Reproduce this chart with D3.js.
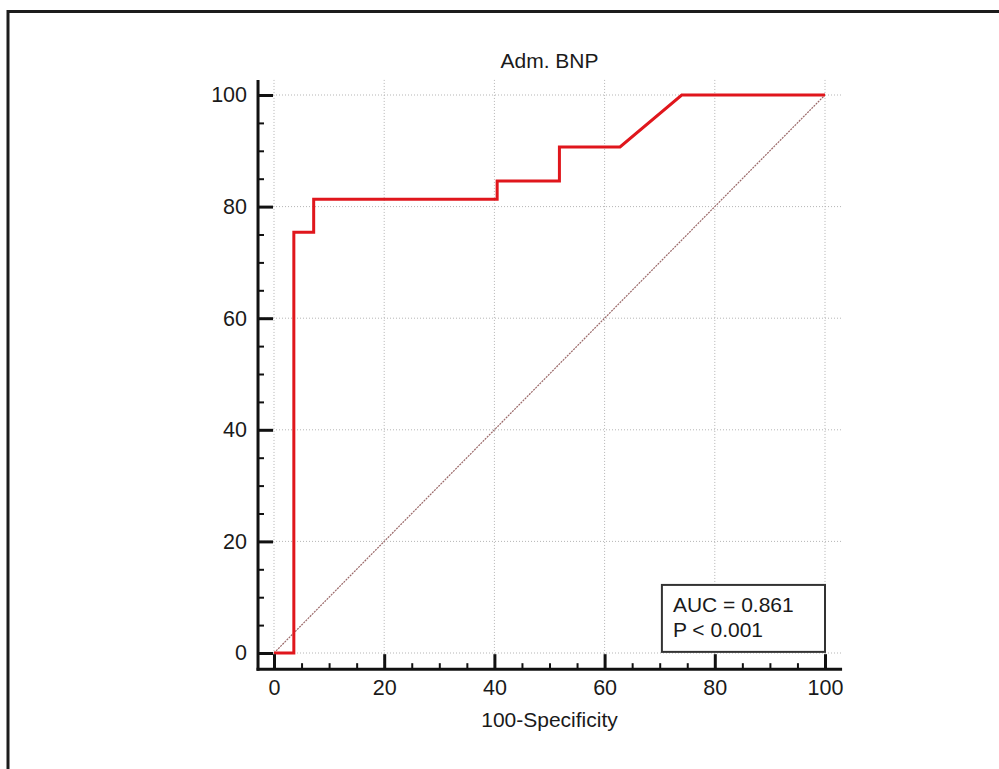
<!DOCTYPE html>
<html>
<head>
<meta charset="utf-8">
<script src="https://cdn.jsdelivr.net/npm/d3@7"></script>
<style>
  html, body { margin: 0; padding: 0; background: #fff; }
  svg { display: block; font-family: "Liberation Sans", Arial, sans-serif; }
</style>
</head>
<body>
<svg id="roc" width="999" height="769"></svg>
<script>
// ROC curve points (100-specificity, sensitivity)
const fpr = [0, 3.6, 3.6, 7.2, 7.2, 40.5, 40.5, 51.8, 51.8, 62.8, 74.0, 100];
const tpr = [0, 0, 75.4, 75.4, 81.3, 81.3, 84.6, 84.6, 90.7, 90.7, 100, 100];
const majorTicks = [0, 20, 40, 60, 80, 100];
const minorTicks = [5, 10, 15, 25, 30, 35, 45, 50, 55, 65, 70, 75, 85, 90, 95];
const chartTitle = "Adm. BNP";
const xTitle = "100-Specificity";
const statLines = ["AUC = 0.861", "P < 0.001"];

const svg = d3.select("#roc");

// Outer frame (runs off the right and bottom of the picture)
svg.append("rect")
  .attr("x", 8).attr("y", 11.5)
  .attr("width", 1100).attr("height", 900)
  .attr("fill", "none")
  .attr("stroke", "#1c1c1c")
  .attr("stroke-width", 3);

const x = d3.scaleLinear().domain([0, 100]).range([274, 825]);
const y = d3.scaleLinear().domain([0, 100]).range([653, 95]);

// axis lines sit a bit outside the data range
const xLo = x(-2.9), xHi = x(103.1);
const yLo = y(-2.9), yHi = y(102.7);

// Grid
const grid = svg.append("g")
  .attr("stroke", "#b4b4b4")
  .attr("stroke-width", 1)
  .attr("stroke-dasharray", "1,2");
grid.selectAll(".gx").data(majorTicks).join("line")
  .attr("x1", d => x(d)).attr("x2", d => x(d))
  .attr("y1", yHi).attr("y2", yLo);
grid.selectAll(".gy").data(majorTicks).join("line")
  .attr("y1", d => y(d)).attr("y2", d => y(d))
  .attr("x1", xLo).attr("x2", xHi);

// Diagonal reference line
svg.append("line")
  .attr("x1", x(0)).attr("y1", y(0))
  .attr("x2", x(100)).attr("y2", y(100))
  .attr("stroke", "#9a6868")
  .attr("stroke-width", 1.2)
  .attr("stroke-dasharray", "2,1");

// ROC curve
const pts = fpr.map((v, i) => [v, tpr[i]]);
svg.append("path")
  .datum(pts)
  .attr("fill", "none")
  .attr("stroke", "#e0161c")
  .attr("stroke-width", 3)
  .attr("stroke-linejoin", "miter")
  .attr("d", d3.line().x(d => x(d[0])).y(d => y(d[1])));

// Axes
const xAxisG = svg.append("g").attr("transform", `translate(0,${yLo})`);
xAxisG.call(d3.axisBottom(x).tickValues(majorTicks).tickSizeInner(-15).tickSizeOuter(0).tickPadding(11));
xAxisG.append("g").call(d3.axisBottom(x).tickValues(minorTicks).tickSizeInner(-6).tickSizeOuter(0).tickFormat(""));

const yAxisG = svg.append("g").attr("transform", `translate(${xLo},0)`);
yAxisG.call(d3.axisLeft(y).tickValues(majorTicks).tickSizeInner(-15).tickSizeOuter(0).tickPadding(11));
yAxisG.append("g").call(d3.axisLeft(y).tickValues(minorTicks).tickSizeInner(-6).tickSizeOuter(0).tickFormat(""));

svg.selectAll(".domain").remove();
svg.selectAll(".tick line").attr("stroke", "#111");
xAxisG.selectAll(":scope > .tick line").attr("stroke-width", 3);
yAxisG.selectAll(":scope > .tick line").attr("stroke-width", 3);
xAxisG.selectAll("g g .tick line").attr("stroke-width", 2);
yAxisG.selectAll("g g .tick line").attr("stroke-width", 2);
svg.selectAll(".tick text")
  .attr("fill", "#1a1a1a")
  .attr("font-size", 21.5)
  .attr("font-family", "'Liberation Sans', Arial, sans-serif");

svg.append("line")
  .attr("x1", xLo - 1.5).attr("x2", xHi)
  .attr("y1", yLo).attr("y2", yLo)
  .attr("stroke", "#111").attr("stroke-width", 3);
svg.append("line")
  .attr("x1", xLo).attr("x2", xLo)
  .attr("y1", yHi).attr("y2", yLo + 1.5)
  .attr("stroke", "#111").attr("stroke-width", 3);

// Titles
svg.append("text")
  .attr("x", x(50)).attr("y", 68)
  .attr("text-anchor", "middle")
  .attr("font-size", 21)
  .attr("fill", "#1a1a1a")
  .text(chartTitle);

svg.append("text")
  .attr("x", x(50)).attr("y", 727)
  .attr("text-anchor", "middle")
  .attr("font-size", 21)
  .attr("fill", "#1a1a1a")
  .text(xTitle);

// AUC box
const bx0 = x(70.4), by0 = y(12.2);
svg.append("rect")
  .attr("x", bx0).attr("y", by0)
  .attr("width", x(100) - bx0)
  .attr("height", y(0.2) - by0)
  .attr("fill", "#fff")
  .attr("stroke", "#333")
  .attr("stroke-width", 2);

svg.append("g").selectAll("text").data(statLines).join("text")
  .attr("x", bx0 + 11)
  .attr("y", (d, i) => by0 + 27 + i * 25)
  .attr("font-size", 21)
  .attr("fill", "#1a1a1a")
  .text(d => d);
</script>
</body>
</html>
